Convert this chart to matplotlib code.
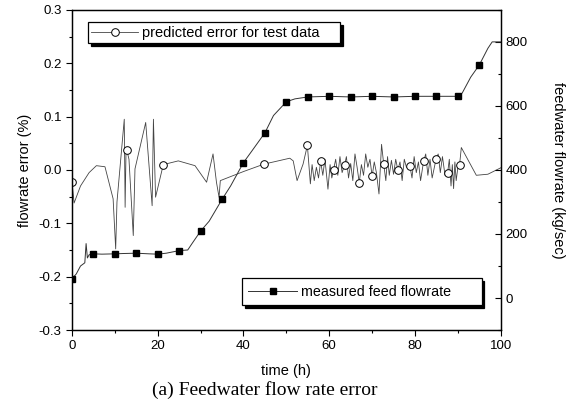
import matplotlib
matplotlib.use("Agg")
from matplotlib import pyplot as plt
from matplotlib.lines import Line2D
from matplotlib.ticker import MultipleLocator, FormatStrFormatter

plt.rcParams['font.family'] = ['Liberation Sans', 'DejaVu Sans']

# measured feed flowrate (kg/sec), right axis
flow_t = [0, 1, 2, 3, 3.3, 3.6, 4, 5, 7, 10, 12, 15, 18, 20, 22, 25, 27, 28, 30, 32,
          35, 37, 40, 42, 45, 47, 50, 52, 55, 60, 65, 70, 75, 80, 85, 90, 91, 93,
          95, 97, 98, 100]
flow_v = [60, 75, 100, 110, 170, 125, 135, 138, 137, 138, 139, 140, 138, 137, 140,
          148, 150, 170, 209, 240, 308, 350, 423, 460, 516, 570, 613, 622, 628, 630,
          628, 630, 628, 630, 630, 630, 640, 690, 728, 780, 800, 800]

# predicted error (%), left axis
err_t = [0, 0.5, 2, 4, 5.7, 7.7, 9.6, 10.2, 10.5, 12.2, 12.4, 12.6, 12.8, 13.3,
         14.3, 14.7, 17.2, 18.7, 19.0, 19.5, 21.3, 24.8, 28.7, 31.4, 32.9, 33.7,
         34.3, 34.6, 40, 44.8, 47, 50.8, 51.6, 52.5, 53.9, 54.9, 55.6, 56.0, 56.5,
         57.0, 57.5, 58.0, 58.5, 59.0, 59.7, 60.2, 60.6, 61.0, 61.5, 62.0, 62.5,
         63.0, 63.6, 64.0, 64.5, 65.0, 65.5, 66.0, 66.5, 67.0, 67.5, 68.0, 68.5,
         69.0, 69.5, 70.0, 70.5, 71.0, 71.6, 72.2, 72.7, 73.2, 73.6, 74.0, 74.5,
         75.0, 75.5, 76.0, 76.5, 77.0, 77.5, 78.0, 78.8, 79.3, 79.8, 80.3, 80.8,
         81.3, 82.0, 82.5, 83.0, 83.5, 84.0, 84.9, 85.4, 85.9, 86.4, 87.0, 87.6,
         88.0, 88.4, 88.7, 89.0, 89.3, 89.6, 90.0, 90.4, 90.8, 94.3, 97.0, 100]
err_v = [-0.022, -0.062, -0.03, -0.005, 0.008, 0.006, -0.054, -0.148, -0.06, 0.095,
         -0.07, 0.03, 0.037, 0.02, -0.123, 0.002, 0.089, -0.067, 0.095, -0.051,
         0.01, 0.017, 0.008, -0.023, 0.03, -0.023, -0.051, -0.02, -0.003, 0.011,
         0.015, 0.022, 0.017, -0.02, 0.011, 0.046, -0.026, 0.01, -0.02, 0.005,
         -0.015, 0.016, -0.01, 0.02, -0.036, 0.01, -0.015, 0.0, 0.02, -0.01, 0.025,
         -0.005, 0.01, 0.025, -0.015, 0.012, -0.02, 0.03, 0.005, -0.024, 0.01,
         -0.01, 0.03, 0.005, 0.02, -0.012, 0.015, -0.005, -0.045, 0.048, 0.011,
         -0.02, 0.025, -0.01, 0.018, -0.008, 0.02, 0.0, 0.015, -0.02, 0.02, 0.005,
         0.008, -0.015, 0.025, -0.005, 0.015, -0.02, 0.016, 0.03, -0.01, 0.02,
         -0.015, 0.02, 0.03, -0.005, 0.025, -0.01, -0.006, 0.02, -0.03, 0.01,
         -0.035, 0.015, -0.02, 0.005, 0.01, 0.042, -0.01, -0.008, 0.004]

# test data points (circles)
test_t = [0, 12.8, 21.3, 44.8, 54.9, 58.0, 61.0, 63.6, 67.0, 70.0, 72.7, 76.0,
          78.8, 82.0, 84.9, 87.6, 90.4]
test_v = [-0.022, 0.037, 0.01, 0.011, 0.046, 0.016, 0.0, 0.01, -0.024, -0.012,
          0.011, 0.0, 0.008, 0.016, 0.02, -0.006, 0.01]

fig = plt.figure(figsize=(5.71, 4.11), dpi=100)
ax = fig.add_axes([0.126, 0.197, 0.751, 0.779])
ax2 = ax.twinx()

ax.plot(err_t, err_v, color='#444444', lw=0.6)
ax.plot(test_t, test_v, ls='none', marker='o', ms=5.5, mfc='white', mec='black', mew=0.7)

mark_idx = [i for i, t in enumerate(flow_t) if t % 5 == 0 and t < 100]
ax2.plot(flow_t, flow_v, color='#333333', lw=0.7, marker='s', ms=5,
         mfc='black', mec='black', markevery=mark_idx)

ax.set_xlim(0, 100)
ax.set_ylim(-0.3, 0.3)
ax2.set_ylim(-100, 900)

ax.xaxis.set_major_locator(MultipleLocator(20))
ax.xaxis.set_minor_locator(MultipleLocator(10))
ax.yaxis.set_major_locator(MultipleLocator(0.1))
ax.yaxis.set_minor_locator(MultipleLocator(0.05))
ax2.yaxis.set_major_locator(MultipleLocator(200))
ax2.yaxis.set_minor_locator(MultipleLocator(100))
ax.yaxis.set_major_formatter(FormatStrFormatter('%.1f'))

ax.tick_params(which='major', direction='out', length=4, width=0.8, labelsize=9.5)
ax.tick_params(which='minor', direction='out', length=2.5, width=0.8)
ax.tick_params(axis='x', which='both', top=False)
ax2.tick_params(which='major', direction='in', length=4, width=0.8, labelsize=9.5)
ax2.tick_params(which='minor', direction='in', length=2.5, width=0.8)
for a in (ax, ax2):
    for s in a.spines.values():
        s.set_linewidth(0.9)

ax.set_xlabel('time (h)', fontsize=10.5, labelpad=8)
ax.set_ylabel('flowrate error (%)', fontsize=10.5, labelpad=5)
ax2.set_ylabel('feedwater flowrate (kg/sec)', fontsize=10.5, rotation=270, labelpad=27)

h1 = Line2D([], [], color='#444444', lw=0.6, marker='o', ms=5.5, mfc='white',
            mec='black', mew=0.7)
h2 = Line2D([], [], color='#333333', lw=0.7, marker='s', ms=5, mfc='black', mec='black')
shadow = {'color': 'black', 'alpha': 1}
leg1 = ax2.legend([h1], ['predicted error for test data    '], loc='upper left',
                  bbox_to_anchor=(0.037, 0.962), fontsize=10.5, fancybox=False,
                  edgecolor='black', framealpha=1, shadow=shadow, handlelength=3.2,
                  borderpad=0.25, handletextpad=0.3, borderaxespad=0)
leg1.get_frame().set_linewidth(0.9)
ax2.add_artist(leg1)
leg2 = ax2.legend([h2], ['measured feed flowrate      '], loc='upper left',
                  bbox_to_anchor=(0.396, 0.162), fontsize=10.3, fancybox=False,
                  edgecolor='black', framealpha=1, shadow=shadow, handlelength=3.4,
                  borderpad=0.45, handletextpad=0.3, borderaxespad=0)
leg2.get_frame().set_linewidth(0.9)

fig.text(0.464, 0.052, '(a) Feedwater flow rate error', ha='center', va='center',
         fontsize=14, family=['Liberation Serif', 'DejaVu Serif'])

plt.savefig('out.png', dpi=100)
